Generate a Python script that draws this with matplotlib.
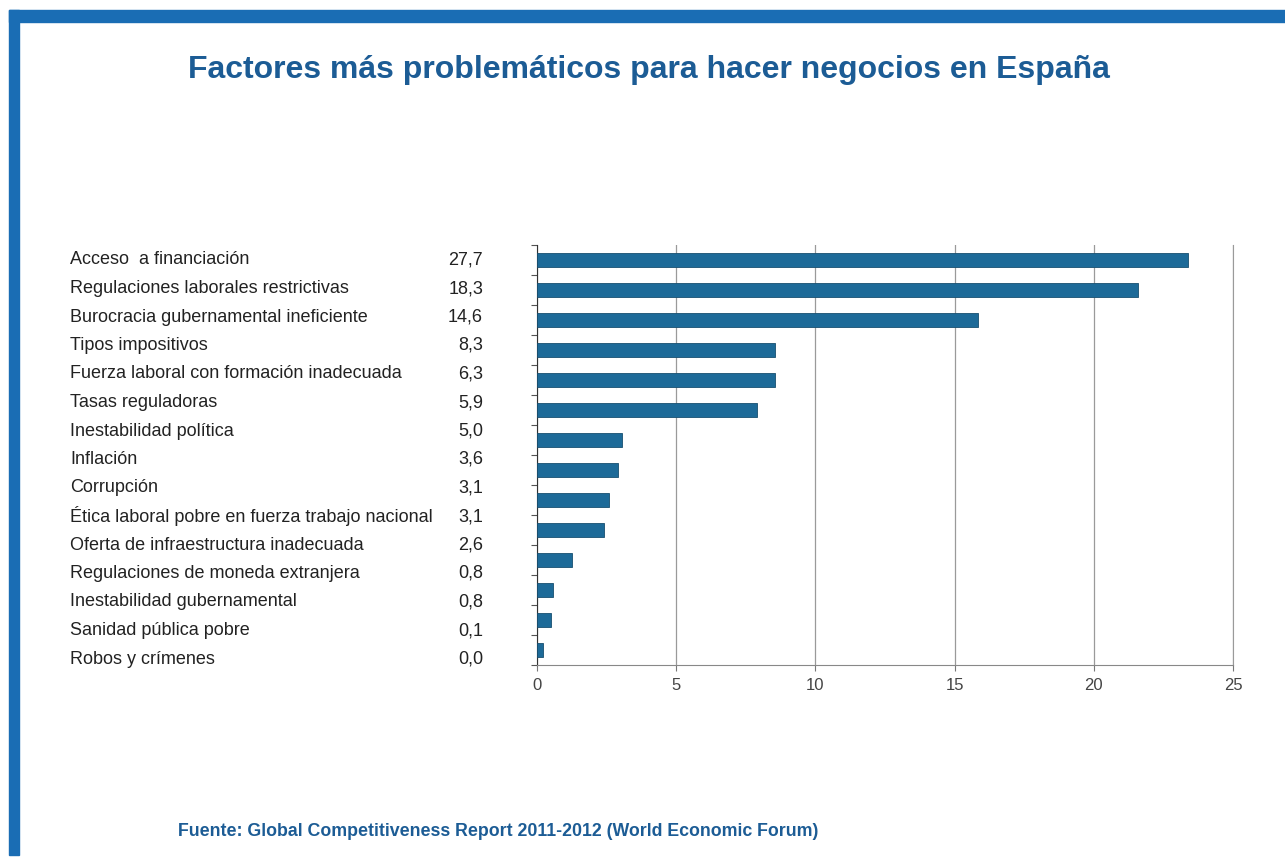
import matplotlib.pyplot as plt
from matplotlib.patches import Rectangle

# table on the left (as printed)
factors = ['Acceso  a financiación', 'Regulaciones laborales restrictivas',
           'Burocracia gubernamental ineficiente', 'Tipos impositivos',
           'Fuerza laboral con formación inadecuada', 'Tasas reguladoras',
           'Inestabilidad política', 'Inflación', 'Corrupción',
           'Ética laboral pobre en fuerza trabajo nacional',
           'Oferta de infraestructura inadecuada', 'Regulaciones de moneda extranjera',
           'Inestabilidad gubernamental', 'Sanidad pública pobre', 'Robos y crímenes']
shown = ['27,7', '18,3', '14,6', '8,3', '6,3', '5,9', '5,0', '3,6', '3,1', '3,1',
         '2,6', '0,8', '0,8', '0,1', '0,0']

# bar lengths as drawn (14 bars)
bar_len = [23.4, 21.6, 15.85, 8.55, 8.55, 7.9, 3.05, 2.9, 2.6, 2.4, 1.27, 0.58, 0.51, 0.22]
xticks = [0, 5, 10, 15, 20, 25]

bar_col = '#1d6a98'
frame_col = '#1a6db4'
title_col = '#1c5c95'
narrow = ['Liberation Sans Narrow', 'Liberation Sans', 'DejaVu Sans']

W, H = 1285, 857
fig = plt.figure(figsize=(W / 100, H / 100), dpi=100)
fig.patch.set_facecolor('white')

# blue frame
fig.patches.append(Rectangle((9 / W, 1 - 22 / H), 1 - 9 / W, 12 / H, transform=fig.transFigure,
                             color=frame_col, zorder=0))
fig.patches.append(Rectangle((9 / W, 2 / H), 10 / W, 1 - 12 / H, transform=fig.transFigure,
                             color=frame_col, zorder=0))

fig.text(649 / W, 1 - 70 / H, 'Factores más problemáticos para hacer negocios en España',
         ha='center', va='center', fontsize=23, fontweight='bold', color=title_col,
         family='Liberation Sans')
fig.text(178 / W, 1 - 832 / H,
         'Fuente: Global Competitiveness Report 2011-2012 (World Economic Forum)',
         ha='left', va='center', fontsize=12.8, fontweight='bold', color=title_col,
         family='Liberation Sans')

for i, (name, v) in enumerate(zip(factors, shown)):
    y = 1 - (260 + i * 28.5) / H
    fig.text(70 / W, y, name, ha='left', va='center', fontsize=13, color='#222222',
             family='Liberation Sans')
    fig.text(483 / W, y, v, ha='right', va='center', fontsize=13, color='#222222',
             family='Liberation Sans')

ax = fig.add_axes([537 / W, 1 - 665 / H, (1233 - 537) / W, (665 - 245) / H])
n = len(bar_len)
ax.barh(range(n), bar_len, height=0.47, color=bar_col, edgecolor='#174f70', linewidth=0.6,
        zorder=3)
ax.set_ylim(n - 0.5, -0.5)
ax.set_xlim(0, 25)
ax.set_xticks(xticks)
ax.set_xticklabels([str(t) for t in xticks], fontsize=12, color='#444444', family=narrow)
ax.set_yticks([i - 0.5 for i in range(n + 1)])
ax.set_yticklabels([])
ax.tick_params(axis='y', length=4, color='#555555', width=0.8)
ax.tick_params(axis='x', length=4, color='#777777', pad=5)
ax.grid(axis='x', color='#9a9a9a', linewidth=0.9, zorder=0)
ax.spines['top'].set_visible(False)
ax.spines['right'].set_color('#9a9a9a')
ax.spines['left'].set_color('#333333')
ax.spines['bottom'].set_color('#888888')

fig.savefig('out.png', dpi=100)
